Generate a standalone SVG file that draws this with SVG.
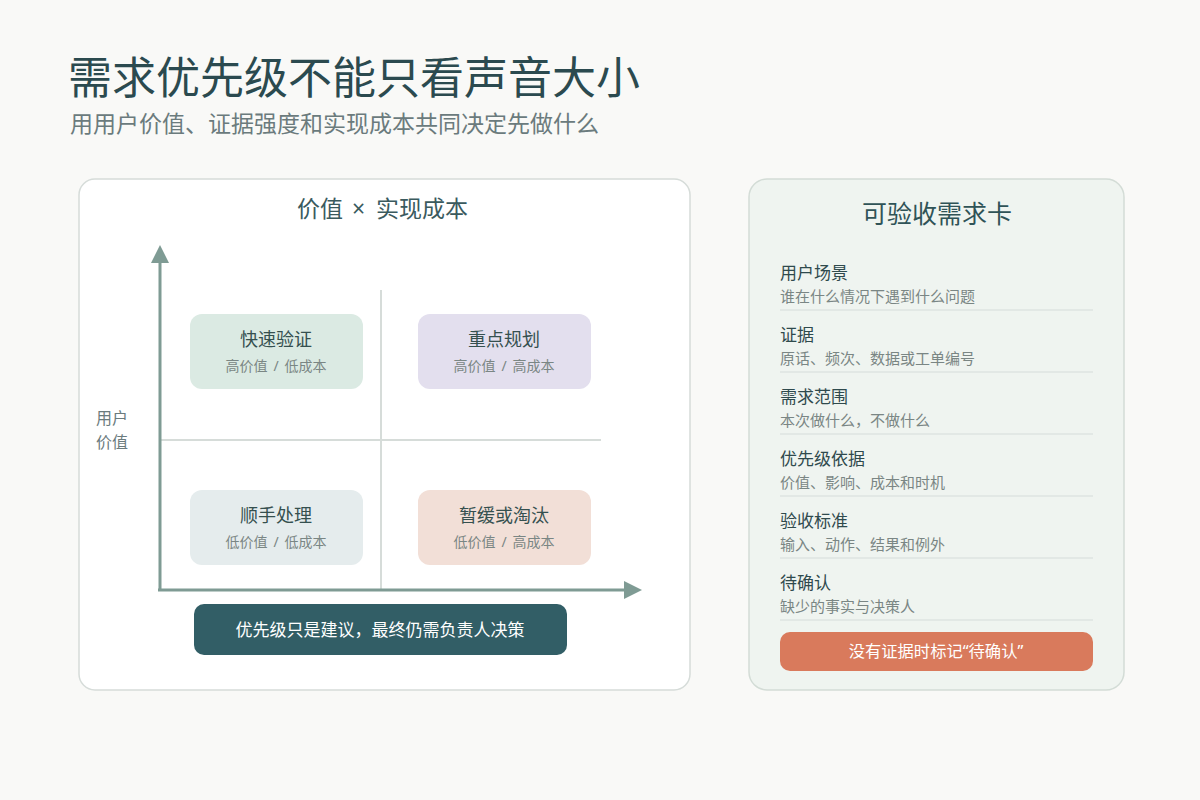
<svg xmlns="http://www.w3.org/2000/svg" width="1200" height="800" viewBox="0 0 1200 800">
<defs>
<style>
text{font-family:"Noto Sans CJK SC","Noto Sans",sans-serif;}
.title{font-size:44px;fill:#2b4a4f;}
.subtitle{font-size:23px;fill:#6b7b7d;}
.ptitle{font-size:23px;fill:#3a5a5e;}
.qt{font-size:18px;fill:#35504f;text-anchor:middle;}
.qs{font-size:14px;fill:#7a8684;text-anchor:middle;}
.axis{stroke:#7f9b94;stroke-width:3;fill:none;}
.grid{stroke:#d6dcd9;stroke-width:2;}
.lbl{font-size:17px;fill:#2f4a4d;}
.sub{font-size:15px;fill:#7a8684;}
.sep{stroke:#d6dcd9;stroke-width:1.2;}
.white{fill:#ffffff;font-size:17px;text-anchor:middle;}
.latin{font-family:"Noto Sans","Noto Sans CJK SC",sans-serif;}
</style>
</defs>
<rect width="1200" height="800" fill="#f9f9f7"/>
<g id="header">
<text class="title" x="68" y="94">需求优先级不能只看声音大小</text>
<text class="subtitle" x="70" y="132">用用户价值、证据强度和实现成本共同决定先做什么</text>
</g>
<g id="matrix-panel">
<rect x="79" y="179" width="611" height="511" rx="16" fill="#ffffff" stroke="#d6dcd9" stroke-width="1.5"/>
<text class="ptitle" x="297" y="217">价值<tspan class="latin" x="352">×</tspan><tspan x="376">实现成本</tspan></text>
<line class="grid" x1="381" y1="290" x2="381" y2="590"/>
<line class="grid" x1="160" y1="440" x2="601" y2="440"/>
<text x="96" y="424" style="font-size:16px;fill:#6b7b7d">用户</text>
<text x="96" y="448" style="font-size:16px;fill:#6b7b7d">价值</text>
</g>
<g id="connectors">
<line class="axis" x1="160" y1="591" x2="160" y2="262"/>
<path d="M160,245 L169,263 L151,263 Z" fill="#7f9b94"/>
<line class="axis" x1="158" y1="590" x2="625" y2="590"/>
<path d="M642,590 L624,581 L624,599 Z" fill="#7f9b94"/>
</g>
<g id="q-quick">
<rect x="190" y="314" width="173" height="75" rx="12" fill="#dbeae3"/>
<text class="qt" x="276" y="346">快速验证</text>
<text class="qs" x="276" y="371">高价值<tspan class="latin" dx="6">/</tspan><tspan dx="6">低成本</tspan></text>
</g>
<g id="q-plan">
<rect x="418" y="314" width="173" height="75" rx="12" fill="#e3dfee"/>
<text class="qt" x="504" y="346">重点规划</text>
<text class="qs" x="504" y="371">高价值<tspan class="latin" dx="6">/</tspan><tspan dx="6">高成本</tspan></text>
</g>
<g id="q-easy">
<rect x="190" y="490" width="173" height="75" rx="12" fill="#e5eced"/>
<text class="qt" x="276" y="522">顺手处理</text>
<text class="qs" x="276" y="547">低价值<tspan class="latin" dx="6">/</tspan><tspan dx="6">低成本</tspan></text>
</g>
<g id="q-defer">
<rect x="418" y="490" width="173" height="75" rx="12" fill="#f2dfd7"/>
<text class="qt" x="504" y="522">暂缓或淘汰</text>
<text class="qs" x="504" y="547">低价值<tspan class="latin" dx="6">/</tspan><tspan dx="6">高成本</tspan></text>
</g>
<g id="note">
<rect x="194" y="604" width="373" height="51" rx="10" fill="#325e66"/>
<text class="white" x="380" y="636">优先级只是建议，最终仍需负责人决策</text>
</g>
<g id="card">
<rect x="749" y="179" width="375" height="511" rx="18" fill="#eff4f0" stroke="#d3dcd6" stroke-width="1.5"/>
<text class="ptitle" x="937" y="223" style="fill:#2f5357;font-size:25px;text-anchor:middle">可验收需求卡</text>
<text class="lbl" x="780" y="279">用户场景</text>
<text class="sub" x="780" y="302">谁在什么情况下遇到什么问题</text>
<line class="sep" x1="780" y1="310" x2="1093" y2="310"/>
<text class="lbl" x="780" y="341">证据</text>
<text class="sub" x="780" y="364">原话、频次、数据或工单编号</text>
<line class="sep" x1="780" y1="372" x2="1093" y2="372"/>
<text class="lbl" x="780" y="403">需求范围</text>
<text class="sub" x="780" y="426">本次做什么，不做什么</text>
<line class="sep" x1="780" y1="434" x2="1093" y2="434"/>
<text class="lbl" x="780" y="465">优先级依据</text>
<text class="sub" x="780" y="488">价值、影响、成本和时机</text>
<line class="sep" x1="780" y1="496" x2="1093" y2="496"/>
<text class="lbl" x="780" y="527">验收标准</text>
<text class="sub" x="780" y="550">输入、动作、结果和例外</text>
<line class="sep" x1="780" y1="558" x2="1093" y2="558"/>
<text class="lbl" x="780" y="589">待确认</text>
<text class="sub" x="780" y="612">缺少的事实与决策人</text>
<line class="sep" x1="780" y1="620" x2="1093" y2="620"/>
</g>
<g id="flag">
<rect x="780" y="632" width="313" height="39" rx="10" fill="#d97a5c"/>
<text class="white" x="936" y="657" style="font-size:16.3px">没有证据时标记<tspan class="latin">“</tspan>待确认<tspan class="latin">”</tspan></text>
</g>
</svg>
